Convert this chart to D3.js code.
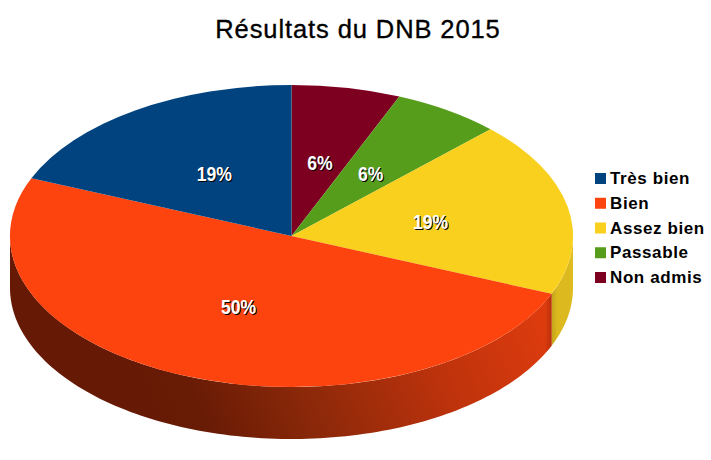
<!DOCTYPE html>
<html><head><meta charset="utf-8">
<script src="https://cdn.jsdelivr.net/npm/d3@7/dist/d3.min.js"></script>
<style>html,body{margin:0;padding:0;background:#fff}svg{display:block}text{font-family:"Liberation Sans",Arial,sans-serif}</style>
</head><body><svg id="c" width="711" height="460"></svg>
<script>
const titleText = "Résultats du DNB 2015";
const categories = ["Très bien","Bien","Assez bien","Passable","Non admis"];
const values = [18.75,50,18.75,6.25,6.25];
const colors = ["#01437f","#fd430e","#fad01e","#579d1c","#7e0021"];
const sliceOrder = [4,3,2,1,0];

const svg = d3.select("#c");
const cx=291.5,cy=236,rx=281.5,ry=151,depth=52;
const xS=d3.scaleLinear().domain([-1,1]).range([cx-rx,cx+rx]);
const yS=d3.scaleLinear().domain([-1,1]).range([cy-ry,cy+ry]);

const data=sliceOrder.map(i=>({name:categories[i],value:values[i],color:colors[i]}));
const pie=d3.pie().sort(null).value(d=>d.value);
const arcs=pie(data);
const defs=svg.append("defs");
const total=d3.sum(values);

// Wall gradients
const g1=defs.append("linearGradient").attr("id","wallBien").attr("gradientUnits","userSpaceOnUse")
  .attr("x1",170).attr("y1",450).attr("x2",545).attr("y2",295);
[[0,"#661a05"],[0.1,"#681b05"],[0.35,"#8a2809"],[0.7,"#bf330c"],[1,"#e03c0e"]]
  .forEach(s=>g1.append("stop").attr("offset",s[0]).attr("stop-color",s[1]));
const g1b=defs.append("linearGradient").attr("id","wallEdge").attr("gradientUnits","userSpaceOnUse")
  .attr("x1",545).attr("y1",0).attr("x2",553).attr("y2",0);
g1b.append("stop").attr("offset",0).attr("stop-color","#a02a08").attr("stop-opacity",0);
g1b.append("stop").attr("offset",1).attr("stop-color","#a02a08").attr("stop-opacity",0.75);
const g2=defs.append("linearGradient").attr("id","wallAssez").attr("gradientUnits","userSpaceOnUse")
  .attr("x1",553).attr("y1",0).attr("x2",575).attr("y2",0);
[[0,"#c8a81a"],[0.2,"#dcb91f"],[0.7,"#dcb91f"],[1,"#e2c022"]]
  .forEach(s=>g2.append("stop").attr("offset",s[0]).attr("stop-color",s[1]));

// Side wall, front half only
const wall=d3.area().x(a=>xS(Math.sin(a))).y0(a=>yS(-Math.cos(a))).y1(a=>yS(-Math.cos(a))+depth);
const front=arcs.map(d=>({d,a0:Math.max(d.startAngle,Math.PI/2),a1:Math.min(d.endAngle,Math.PI*1.5)})).filter(o=>o.a1>o.a0);
front.forEach(o=>{
  const pts=d3.range(0,121).map(i=>o.a0+(o.a1-o.a0)*i/120);
  const id=o.d.data.name==="Bien"?"wallBien":"wallAssez";
  svg.append("path").attr("d",wall(pts)).attr("fill",`url(#${id})`);
  if(o.d.data.name==="Bien"){
    svg.append("path").attr("d",wall(pts)).attr("fill","url(#wallEdge)");
  }
});

// Top face
const arc=d3.arc().innerRadius(0).outerRadius(1);
const topFace=svg.append("g").attr("transform",`translate(${cx},${cy}) scale(${rx},${ry})`);
topFace.selectAll("path").data(arcs).join("path").attr("d",arc).attr("fill",d=>d.data.color);

// Percent labels
const fmt=v=>Math.round(v/total*100)+"%";
const lab=svg.append("g").attr("font-weight","bold").attr("font-size",20).attr("text-anchor","middle");
const labelPos=d=>{const m=(d.startAngle+d.endAngle)/2;return [xS(Math.sin(m)*0.5),yS(-Math.cos(m)*0.5)];};
[["#000",1,1],["#fff",0,0]].forEach(([c,dx,dy])=>{
  lab.append("g").selectAll("text").data(arcs).join("text")
   .attr("transform",d=>{const p=labelPos(d);return `translate(${p[0]+dx+1},${p[1]+dy+8}) scale(0.88,1)`;})
   .attr("fill",c).text(d=>fmt(d.value));
});

// Title
svg.append("text").attr("x",358).attr("y",38).attr("text-anchor","middle").attr("font-size",25.5).attr("letter-spacing",0.9).attr("stroke","#000").attr("stroke-width",0.35).attr("fill","#000").text(titleText);

// Legend
const ly=d3.scalePoint().domain(categories).range([178,277]);
const leg=svg.append("g");
leg.selectAll("rect").data(categories).join("rect").attr("x",595).attr("y",c=>ly(c)-5).attr("width",11).attr("height",11)
  .attr("fill",c=>colors[categories.indexOf(c)]);
leg.selectAll("text").data(categories).join("text").attr("x",610).attr("y",c=>ly(c)+6).attr("font-size",17).attr("font-weight","bold").attr("letter-spacing",0.6).attr("fill","#000").text(c=>c);
</script></body></html>
